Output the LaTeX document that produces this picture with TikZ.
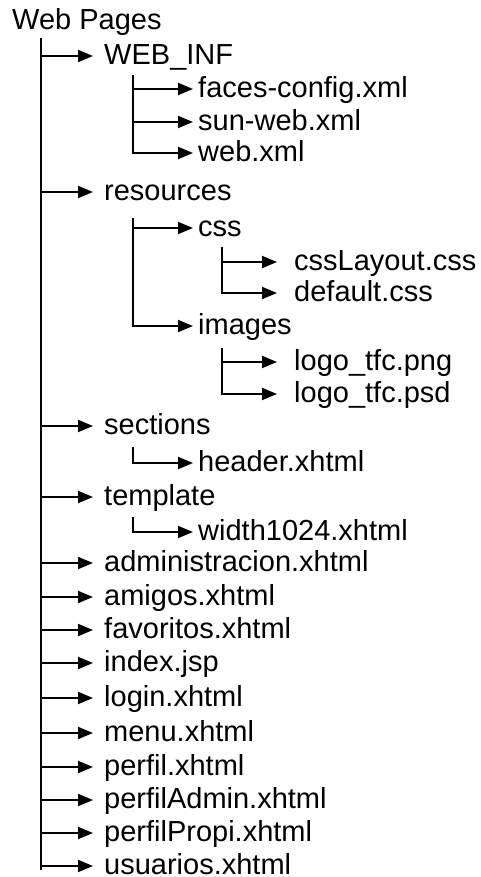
\documentclass[tikz,border=0pt]{standalone}
\usepackage{fontspec}
\setmainfont{Liberation Sans}
\usetikzlibrary{arrows.meta}
\tikzset{
  file/.style={anchor=west, inner sep=0pt, text height=17pt, text depth=0pt, font=\fontsize{29}{34}\selectfont},
  trunk/.style={line width=1.8pt},
  branch/.style={line width=1.8pt, -{Triangle[length=15pt,width=12pt]}}
}

\begin{document}
\begin{tikzpicture}[x=1pt,y=-1pt]
\useasboundingbox (0,0) rectangle (480,877);

\node[file, anchor=base west] (root) at (12,30) {Web Pages};

\node[file] (webinf) at (104,56) {WEB\_INF};
\node[file] (faces) at (198,89) {faces-config.xml};
\node[file] (sunweb) at (198,122) {sun-web.xml};
\node[file] (webxml) at (198,153) {web.xml};
\node[file] (resources) at (104,192) {resources};
\node[file] (css) at (198,228) {css};
\node[file] (csslayout) at (294,262) {cssLayout.css};
\node[file] (default) at (294,293) {default.css};
\node[file] (images) at (198,326) {images};
\node[file] (logopng) at (294,362) {logo\_tfc.png};
\node[file] (logopsd) at (294,394) {logo\_tfc.psd};
\node[file] (sections) at (104,426) {sections};
\node[file] (header) at (198,463) {header.xhtml};
\node[file] (template) at (104,497) {template};
\node[file] (width) at (198,532) {width1024.xhtml};
\node[file] (admin) at (104,563) {administracion.xhtml};
\node[file] (amigos) at (104,597) {amigos.xhtml};
\node[file] (favoritos) at (104,630) {favoritos.xhtml};
\node[file] (index) at (104,663) {index.jsp};
\node[file] (login) at (104,698) {login.xhtml};
\node[file] (menu) at (104,733) {menu.xhtml};
\node[file] (perfil) at (104,767) {perfil.xhtml};
\node[file] (perfiladmin) at (104,800) {perfilAdmin.xhtml};
\node[file] (perfilpropi) at (104,833) {perfilPropi.xhtml};
\node[file] (usuarios) at (104,866) {usuarios.xhtml};

\coordinate (pagestop) at (41,38);
\coordinate (pagesend) at (41,870);
\coordinate (webinftop) at (133,75);
\coordinate (resourcestop) at (133,218);
\coordinate (csstop) at (222,247);
\coordinate (imagestop) at (222,348);
\coordinate (sectionstop) at (133,447);
\coordinate (templatetop) at (133,517);

\draw[trunk] (pagestop) -- (pagesend);
\foreach \n in {webinf,resources,sections,template,admin,amigos,favoritos,index,login,menu,perfil,perfiladmin,perfilpropi,usuarios}
  \draw[branch] (pagestop |- \n.west) -- ([xshift=-11pt]\n.west);

\draw[branch] (webinftop) |- ([xshift=-5pt]webxml.west);
\draw[branch] (webinftop |- faces.west) -- ([xshift=-5pt]faces.west);
\draw[branch] (webinftop |- sunweb.west) -- ([xshift=-5pt]sunweb.west);

\draw[branch] (resourcestop) |- ([xshift=-5pt]images.west);
\draw[branch] (resourcestop |- css.west) -- ([xshift=-5pt]css.west);

\draw[branch] (csstop) |- ([xshift=-17pt]default.west);
\draw[branch] (csstop |- csslayout.west) -- ([xshift=-17pt]csslayout.west);

\draw[branch] (imagestop) |- ([xshift=-17pt]logopsd.west);
\draw[branch] (imagestop |- logopng.west) -- ([xshift=-17pt]logopng.west);

\draw[branch] (sectionstop) |- ([xshift=-5pt]header.west);
\draw[branch] (templatetop) |- ([xshift=-5pt]width.west);

\end{tikzpicture}
\end{document}
